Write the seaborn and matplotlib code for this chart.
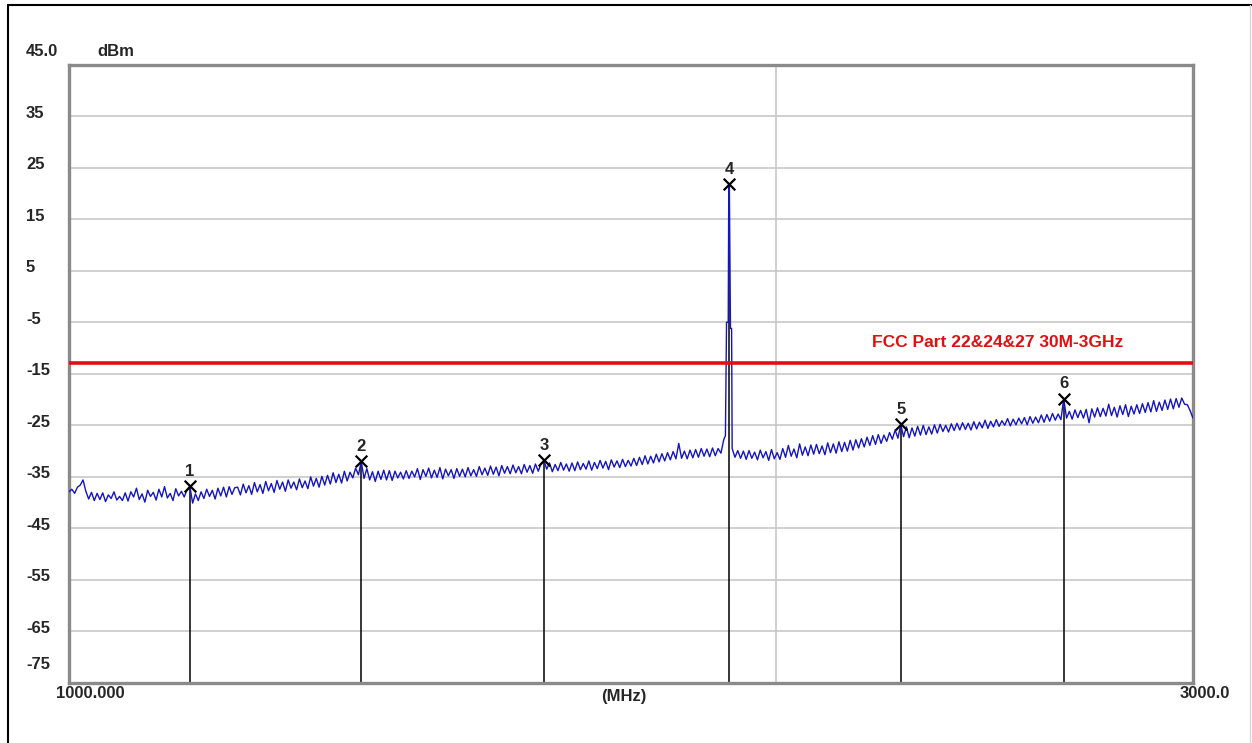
import numpy as np
import pandas as pd
import matplotlib
matplotlib.use("Agg")
import matplotlib.pyplot as plt
import matplotlib.transforms as mtransforms
from matplotlib.lines import Line2D
import seaborn as sns

# sweep: 1000 - 3000 MHz, 5 MHz per point
start_mhz = 1000
stop_mhz = 3000
sweep_mhz = np.linspace(start_mhz, stop_mhz, 401)

trace_dbm = [
    -37.9, -37.4, -38.2, -37.0, -36.6, -35.6, -37.8, -39.3, -38.0, -39.6, -38.2, -39.4, -38.1, -39.8, -38.5, -39.2, -37.9, -39.5, -38.8, -39.6,
    -38.1, -39.7, -37.9, -38.9, -37.2, -39.4, -38.3, -39.9, -37.6, -38.8, -38.0, -39.5, -37.4, -38.9, -36.9, -39.1, -38.2, -39.6, -37.3, -38.7,
    -37.8, -38.9, -37.5, -36.8, -40.1, -38.3, -39.6, -37.9, -39.2, -37.4, -38.8, -37.6, -39.3, -37.2, -38.7, -37.0, -38.9, -36.9, -38.4, -37.1,
    -37.0, -38.5, -36.4, -38.1, -36.7, -38.4, -36.1, -37.9, -36.5, -38.2, -35.9, -37.7, -36.3, -38.0, -35.7, -37.4, -36.0, -37.8, -35.6, -37.2,
    -36.0, -37.5, -35.4, -37.1, -35.8, -37.3, -35.0, -36.8, -35.3, -37.0, -34.9, -36.6, -34.7, -36.4, -34.2, -36.1, -34.5, -36.2, -33.9, -35.8,
    -34.1, -35.2, -33.3, -34.6, -32.0, -35.3, -33.4, -35.6, -34.0, -35.9, -33.9, -35.5, -33.7, -35.6, -33.8, -35.7, -33.9, -35.2, -34.1, -35.4,
    -33.8, -35.3, -33.9, -35.0, -33.4, -35.5, -33.6, -34.9, -33.3, -35.2, -33.7, -35.1, -33.2, -35.4, -33.5, -34.8, -33.6, -35.3, -33.4, -34.9,
    -33.5, -35.0, -33.2, -34.8, -33.6, -34.9, -33.0, -34.6, -33.3, -34.7, -32.9, -34.5, -33.1, -34.8, -32.8, -34.3, -33.0, -34.4, -32.7, -34.2,
    -33.0, -34.4, -32.6, -34.1, -32.8, -34.3, -32.5, -33.9, -32.4, -31.8, -33.5, -32.3, -34.0, -32.6, -33.8, -32.2, -33.7, -32.5, -33.9, -32.3,
    -33.8, -32.1, -33.6, -32.4, -33.5, -31.9, -33.7, -32.2, -33.4, -31.8, -33.3, -32.0, -33.6, -31.7, -33.1, -31.9, -33.2, -31.6, -33.0, -31.8,
    -32.9, -31.4, -32.8, -31.2, -32.6, -30.9, -32.5, -31.0, -32.3, -30.6, -32.1, -30.5, -31.9, -30.3, -31.7, -30.1, -31.5, -28.5, -31.4, -30.0,
    -31.5, -29.8, -31.3, -29.7, -31.2, -29.5, -31.0, -29.6, -31.1, -29.4, -30.9, -29.5, -30.4, -27.8, -5.0, 21.8, -29.5, -31.2, -29.9, -31.4,
    -30.0, -31.6, -29.9, -31.4, -30.2, -31.7, -29.8, -31.3, -30.1, -31.8, -29.7, -31.5, -30.3, -31.6, -29.5, -31.2, -28.9, -31.0, -29.6, -31.3,
    -28.6, -30.8, -29.2, -30.9, -28.8, -30.6, -28.7, -30.5, -29.0, -30.7, -28.4, -30.3, -28.6, -30.4, -28.2, -30.1, -28.3, -30.0, -27.9, -29.8,
    -27.8, -29.4, -27.6, -29.2, -27.3, -28.9, -27.0, -28.7, -26.8, -28.5, -26.9, -28.1, -26.4, -27.7, -25.9, -27.5, -24.8, -27.2, -25.3, -27.4,
    -25.5, -27.1, -25.2, -26.9, -25.0, -26.8, -25.3, -26.7, -24.9, -26.5, -24.8, -26.2, -25.0, -26.3, -24.7, -26.0, -24.6, -25.9, -24.5, -25.8,
    -24.6, -25.9, -24.3, -25.7, -24.4, -25.5, -24.0, -25.6, -24.2, -25.3, -23.9, -25.2, -24.1, -25.0, -23.7, -25.1, -23.8, -24.9, -23.6, -24.7,
    -23.5, -24.9, -23.3, -24.6, -23.4, -24.5, -23.0, -24.4, -22.9, -24.2, -22.7, -24.0, -22.8, -23.9, -19.8, -23.6, -22.3, -23.8, -22.0, -23.5,
    -22.1, -23.6, -21.9, -24.5, -21.8, -23.4, -21.6, -23.3, -21.7, -23.2, -20.9, -23.1, -21.5, -23.4, -21.2, -22.9, -21.0, -23.3, -21.3, -22.8,
    -21.0, -22.7, -20.8, -22.5, -20.6, -22.4, -20.2, -22.3, -20.5, -22.1, -20.1, -21.9, -19.9, -21.8, -19.8, -21.5, -19.7, -20.9, -21.0, -22.2,
    -23.6,
]

# extra sweep points on the carrier (shoulders of the spike)
spike_mhz = [2168, 2173, 2174, 2177, 2179]
spike_dbm = [-27.0, -5.0, 21.8, -6.2, -6.2]

marker_ids = ["1", "2", "3", "4", "5", "6"]
marker_mhz = [1215, 1520, 1845, 2175, 2480, 2770]
marker_dbm = [-36.8, -32.0, -31.8, 21.8, -24.8, -19.8]

limit_dbm = -13
limit_label = "FCC Part 22&24&27 30M-3GHz"

grid_dbm = [35, 25, 15, 5, -5, -15, -25, -35, -45, -55, -65]
grid_mhz = [2258]
y_top, y_bottom = 45, -75

W, H = 1252, 743

trace = pd.concat([
    pd.DataFrame({"mhz": sweep_mhz, "dbm": trace_dbm}),
    pd.DataFrame({"mhz": spike_mhz, "dbm": spike_dbm}),
]).sort_values("mhz")

sns.set_style("white")
plt.rcParams['font.family'] = ['Liberation Sans', 'DejaVu Sans']

fig = plt.figure(figsize=(W / 100, H / 100), dpi=100)
ax = fig.add_axes([69 / W, 1 - 683 / H, (1193 - 69) / W, (683 - 64.6) / H])

def fx(px):
    return px / W

def fy(py):
    return 1 - py / H

# outer frame (only left and top edges show)
fig.add_artist(Line2D([fx(8), fx(8)], [0, fy(5)], color="black", lw=1.5))
fig.add_artist(Line2D([fx(8), 1], [fy(5), fy(5)], color="black", lw=1.5))
fig.add_artist(Line2D([fx(1250), fx(1250)], [0, fy(5)], color="#d8d8d8", lw=1))

for g in grid_dbm:
    ax.axhline(g, color="#c8c8c8", lw=1.2, zorder=1)
for g in grid_mhz:
    ax.axvline(g, color="#c8c8c8", lw=1.2, zorder=1)

# marker stems
ax.vlines(marker_mhz, y_bottom, marker_dbm, color="black", lw=1.1, zorder=2)

sns.lineplot(data=trace, x="mhz", y="dbm", ax=ax, color="#1414c0", lw=1.0,
             sort=False, estimator=None, zorder=3)

ax.axhline(limit_dbm, color="#e01010", lw=2.6, zorder=4)
lim_tr = mtransforms.blended_transform_factory(fig.transFigure, ax.transData)
ax.text(fx(872), limit_dbm + 4.0, limit_label, transform=lim_tr, color="#e01010",
        fontsize=12.5, fontweight="bold", ha="left", va="center")

sns.scatterplot(x=marker_mhz, y=marker_dbm, ax=ax, marker="x", s=70, color="black",
                linewidth=1.6, zorder=5)
for mid, mx, my in zip(marker_ids, marker_mhz, marker_dbm):
    ax.annotate(mid, (mx, my), xytext=(0, 5.5), textcoords="offset points",
                ha="center", va="bottom", fontsize=12, fontweight="bold", zorder=6)

ax.set_xlim(start_mhz, stop_mhz)
ax.set_ylim(y_bottom, y_top)
ax.set_xticks([])
ax.set_yticks([])
ax.set_xlabel("")
ax.set_ylabel("")
for s in ax.spines.values():
    s.set_color("#8a8a8a")
    s.set_linewidth(2.4)

# y labels
ytr = mtransforms.blended_transform_factory(fig.transFigure, ax.transData)
for g in grid_dbm:
    ax.text(fx(26), g + 0.6, f"{g}", transform=ytr, ha="left", va="center",
            fontsize=12, fontweight="bold")
ax.text(fx(26), -71.4, "-75", transform=ytr, ha="left", va="center",
        fontsize=12, fontweight="bold")
fig.text(fx(26), fy(51), "45.0", ha="left", va="center", fontsize=12, fontweight="bold")
fig.text(fx(97), fy(51), "dBm", ha="left", va="center", fontsize=12, fontweight="bold")

# x labels
fig.text(fx(90), fy(694), "1000.000", ha="center", va="center", fontsize=12, fontweight="bold")
fig.text(fx(1205), fy(694), "3000.0", ha="center", va="center", fontsize=12, fontweight="bold")
fig.text(fx(624), fy(696), "(MHz)", ha="center", va="center", fontsize=12, fontweight="bold")

fig.savefig("out.png", dpi=100, facecolor="white")
